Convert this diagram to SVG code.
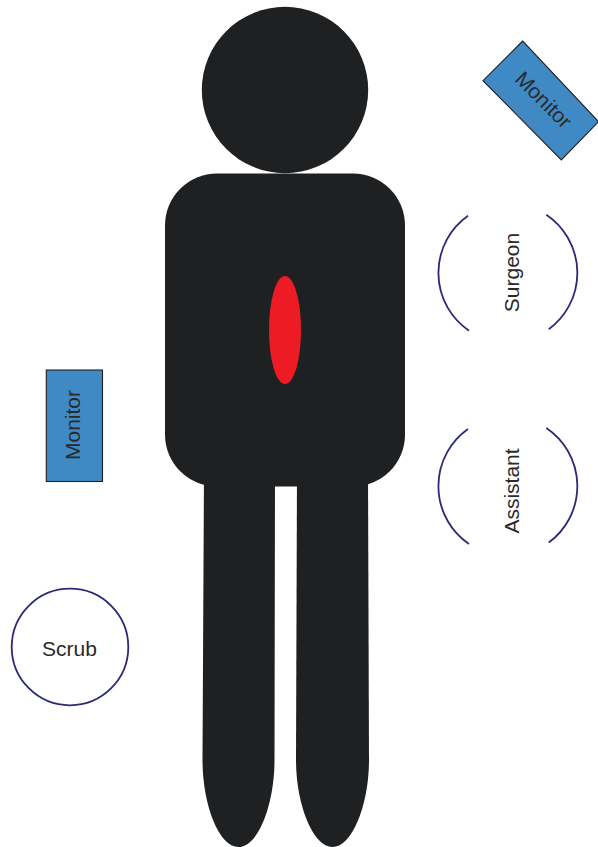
<svg xmlns="http://www.w3.org/2000/svg" width="598" height="847" viewBox="0 0 598 847">
  <style>
    .fig { fill: #1f2022; }
    .mon { fill: #3f8ac4; stroke: #231f20; stroke-width: 1.1; }
    .ring { fill: none; stroke: #2a2a78; stroke-width: 1.8; }
    text { font-family: "Liberation Sans", Arial, sans-serif; font-size: 21px; fill: #2b2a2b; text-anchor: middle; }
  </style>
  <rect width="598" height="847" fill="#ffffff"/>
  <g id="patient">
    <circle class="fig" cx="285" cy="90" r="83.2"/>
    <rect class="fig" x="165" y="173.5" width="240" height="313" rx="52" ry="52"/>
    <path class="fig" d="M204 470H275L274.5 760C274.5 805 258 847 238.5 847C219 847 202.5 805 202.5 760Z"/>
    <path class="fig" d="M297 470H368L369 760C369 805 352 847 332.5 847C313 847 296 805 296 760Z"/>
    <ellipse cx="285" cy="330" rx="16" ry="54" fill="#ed1c24"/>
  </g>
  <g id="monitor-top">
    <polygon class="mon" points="522.7,41 483,80.7 561.3,160 598.5,121.7"/>
    <text transform="translate(538.5 105) rotate(45)">Monitor</text>
  </g>
  <g id="surgeon">
    <path class="ring" d="M468 215.7A70 70 0 0 0 469 330.7"/>
    <path class="ring" d="M546.3 214.7A70 70 0 0 1 548.7 329.3"/>
    <text transform="translate(519 272.5) rotate(-90)">Surgeon</text>
  </g>
  <g id="assistant">
    <path class="ring" d="M468 429A70 70 0 0 0 469 544"/>
    <path class="ring" d="M546.3 428A70 70 0 0 1 548.7 542.6"/>
    <text transform="translate(519 491) rotate(-90)">Assistant</text>
  </g>
  <g id="monitor-left">
    <rect class="mon" x="46.3" y="370" width="56.2" height="111.5"/>
    <text transform="translate(80 425) rotate(-90)">Monitor</text>
  </g>
  <g id="scrub">
    <circle class="ring" cx="70" cy="647" r="58.3"/>
    <text x="69.5" y="655.5">Scrub</text>
  </g>
  <g id="connectors"/>
</svg>
